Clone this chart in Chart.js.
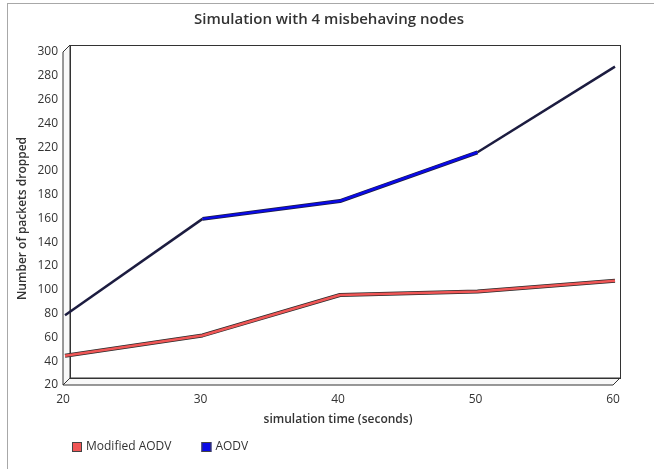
<!DOCTYPE html>
<html>
<head>
<meta charset="utf-8">
<script src="https://cdn.jsdelivr.net/npm/chart.js@4.4.1/dist/chart.umd.min.js"></script>
<style>
  body { margin: 0; background: #fff; }
  #contenedor { position: absolute; left: 0; top: 0; width: 654px; height: 469px; }
  #marco {
    position: absolute; left: 7px; top: 3px; width: 660px; height: 480px;
    border-left: 1px solid #a8a8a8; border-top: 1px solid #a8a8a8;
  }
</style>
</head>
<body>
<div id="marco"></div>
<div id="contenedor"><canvas id="graficoSimulacion"></canvas></div>
<script>
const tiempos = ["20", "30", "40", "50", "60"];
const aodvModificado = [43, 60, 94, 97, 106];
const aodv = [77, 158, 173, 214, 286];
const marcasY = [20, 40, 60, 80, 100, 120, 140, 160, 180, 200, 220, 240, 260, 280, 300];
const titulo = "Simulation with 4 misbehaving nodes";

const fuente = "'Open Sans', 'Noto Sans', sans-serif";
const profundidad = 7;

function pendiente(ctx) {
  return Math.abs((ctx.p1.y - ctx.p0.y) / (ctx.p1.x - ctx.p0.x));
}

function serie(nombre, datos, color, oscuro) {
  return [
    {
      label: nombre,
      data: datos,
      borderColor: color,
      borderWidth: 2.5,
      order: 0,
      segment: {
        borderColor: (ctx) => (pendiente(ctx) > 0.5 ? oscuro : color),
      },
    },
    {
      // borde oscuro del "listón", no se ve en tramos empinados
      label: nombre,
      contorno: true,
      data: datos,
      borderColor: oscuro,
      borderWidth: 4,
      order: 1,
      segment: {
        borderColor: (ctx) => (pendiente(ctx) > 0.5 ? "rgba(0,0,0,0)" : oscuro),
      },
    },
  ];
}

// caja 3D detras de las lineas
const cajaTresD = {
  id: "cajaTresD",
  beforeDatasetsDraw(chart) {
    const { ctx, chartArea } = chart;
    const { left: L, right: R, top: T, bottom: B } = chartArea;
    const d = profundidad;
    ctx.save();
    ctx.strokeStyle = "#333";
    ctx.lineWidth = 1;
    ctx.fillStyle = "#f8f8f8";
    // piso
    ctx.beginPath();
    ctx.moveTo(L, B);
    ctx.lineTo(R, B);
    ctx.lineTo(R + d, B - d);
    ctx.lineTo(L + d, B - d);
    ctx.closePath();
    ctx.fill();
    ctx.stroke();
    // pared izquierda
    ctx.beginPath();
    ctx.moveTo(L, B);
    ctx.lineTo(L, T);
    ctx.lineTo(L + d, T - d);
    ctx.lineTo(L + d, B - d);
    ctx.closePath();
    ctx.fill();
    ctx.stroke();
    // pared de fondo
    ctx.strokeRect(L + d + 0.5, T - d + 0.5, R - L, B - T);
    ctx.restore();
    // las lineas van a media profundidad
    ctx.save();
    ctx.translate(2, -2);
  },
  afterDatasetsDraw(chart) {
    chart.ctx.restore();
  },
};

const textos = {
  id: "textos",
  afterDraw(chart) {
    const { ctx } = chart;
    ctx.save();
    // titulo
    ctx.font = "600 15px " + fuente;
    ctx.fillStyle = "#333";
    ctx.textAlign = "center";
    ctx.textBaseline = "middle";
    ctx.fillText(titulo, 329, 20);

    // leyenda
    let x = 72;
    const y = 447;
    ctx.font = "12px " + fuente;
    ctx.textAlign = "left";
    chart.data.datasets
      .filter((ds) => !ds.contorno)
      .forEach((ds) => {
        ctx.fillStyle = ds.borderColor;
        ctx.fillRect(x, y - 5, 10, 10);
        ctx.strokeStyle = "#444";
        ctx.strokeRect(x + 0.5, y - 4.5, 9, 9);
        ctx.fillStyle = "#333";
        ctx.fillText(ds.label, x + 14, y);
        x += 14 + ctx.measureText(ds.label).width + 30;
      });
    ctx.restore();
  },
};

new Chart(document.getElementById("graficoSimulacion"), {
  type: "line",
  data: {
    labels: tiempos,
    datasets: [
      ...serie("Modified AODV", aodvModificado, "#f05656", "#2a2a2a"),
      ...serie("AODV", aodv, "#0a0ae6", "#1c1c40"),
    ],
  },
  options: {
    responsive: true,
    maintainAspectRatio: false,
    animation: false,
    layout: { padding: { left: 0, right: 41, top: 52, bottom: 34 } },
    elements: { point: { radius: 0 }, line: { tension: 0, borderJoinStyle: "bevel" } },
    plugins: {
      legend: { display: false },
      tooltip: { enabled: false },
    },
    scales: {
      x: {
        grid: { display: false, drawTicks: false },
        border: { display: false },
        ticks: { color: "#333", font: { family: fuente, size: 12 }, padding: 7, maxRotation: 0 },
        title: {
          display: true,
          text: "simulation time (seconds)",
          color: "#333",
          font: { family: fuente, size: 12, weight: "600" },
          padding: { top: 0, bottom: 8 },
        },
        afterFit(scale) {
          scale.height = 50;
        },
      },
      y: {
        min: 20,
        max: 300,
        grid: { display: false, drawTicks: false },
        border: { display: false },
        ticks: { color: "#333", font: { family: fuente, size: 12 }, padding: 5 },
        afterBuildTicks(scale) {
          scale.ticks = marcasY.map((v) => ({ value: v }));
        },
        title: {
          display: true,
          text: "Number of packets dropped",
          color: "#333",
          font: { family: fuente, size: 12, weight: "600" },
          padding: { top: 15, bottom: 0 },
        },
        afterFit(scale) {
          scale.width = 63;
        },
      },
    },
  },
  plugins: [cajaTresD, textos],
});
</script>
</body>
</html>
